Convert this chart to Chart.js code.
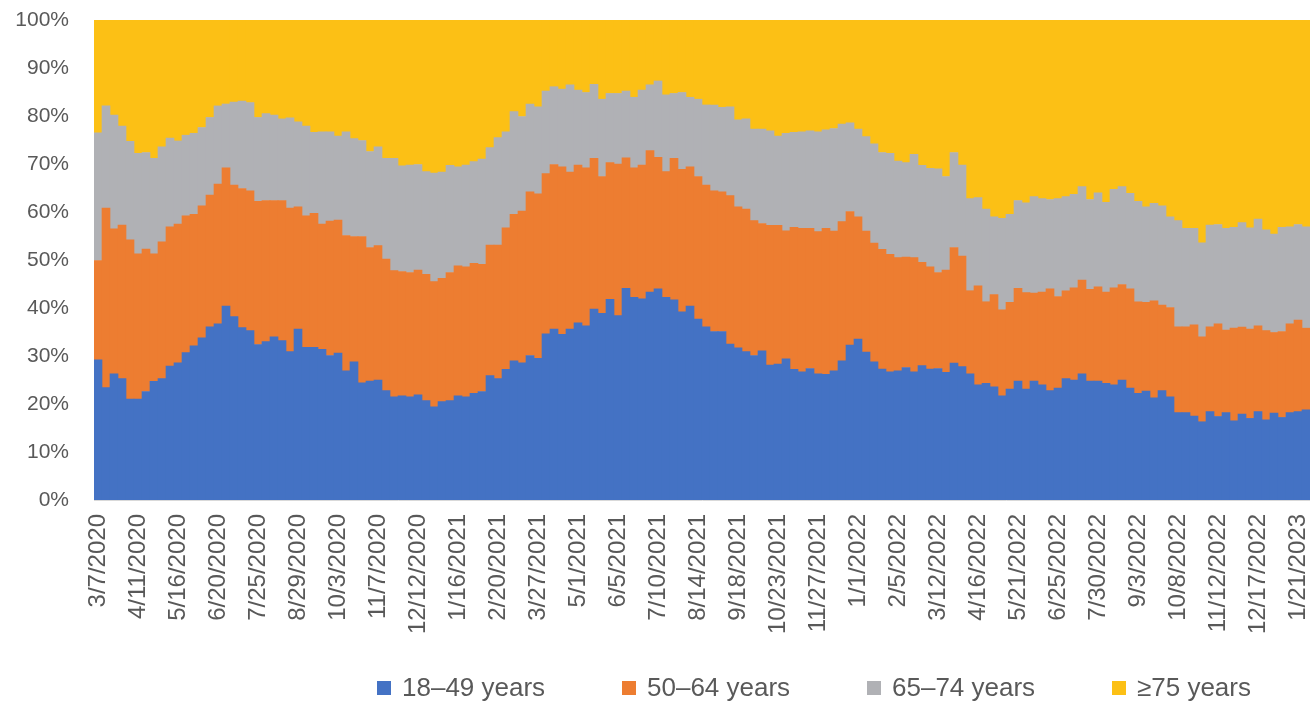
<!DOCTYPE html>
<html>
<head>
<meta charset="utf-8">
<script src="https://cdn.jsdelivr.net/npm/chart.js@4"></script>
<style>
  html, body { margin: 0; padding: 0; background: #ffffff; }
  #wrap { width: 1310px; height: 701px; position: relative; }
</style>
</head>
<body>
<div id="wrap"><canvas id="ageChart"></canvas></div>
<script>
    // Weekly categories, first week 3/7/2020
    const firstWeek = [2020, 2, 7];
    const weekCount = 152;
    const weeks = [];
    for (let i = 0; i < weekCount; i++) {
      const d = new Date(Date.UTC(firstWeek[0], firstWeek[1], firstWeek[2] + 7 * i));
      weeks.push((d.getUTCMonth() + 1) + '/' + d.getUTCDate() + '/' + d.getUTCFullYear());
    }
    const labelEvery = 5;

    const seriesNames = ['18–49 years', '50–64 years', '65–74 years', '≥75 years'];
    const seriesColors = ['#4472C4', '#ED7D31', '#B0B1B5', '#FCC015'];

    // Share of each age group per week (%)
    const age18to49 = [
      29.2, 23.4, 26.3, 25.3, 21.0, 21.0, 22.6, 24.7, 25.3, 27.9,
      28.6, 30.7, 32.1, 33.8, 36.1, 36.7, 40.4, 38.2, 35.9, 35.3,
      32.4, 33.0, 34.0, 33.2, 30.9, 35.6, 31.8, 31.8, 31.4, 30.1,
      30.6, 26.9, 28.8, 24.4, 24.8, 25.0, 22.8, 21.5, 21.7, 21.5,
      21.9, 20.7, 19.4, 20.5, 20.7, 21.7, 21.5, 22.2, 22.6, 25.9,
      25.3, 27.2, 29.0, 28.6, 30.1, 29.5, 34.6, 35.6, 34.5, 35.6,
      36.9, 36.3, 39.8, 38.9, 41.8, 38.4, 44.1, 42.2, 41.9, 43.3,
      44.0, 42.2, 41.7, 39.2, 40.4, 37.7, 36.1, 35.1, 35.1, 32.5,
      31.7, 30.9, 30.1, 31.1, 28.1, 28.3, 29.4, 27.2, 26.7, 27.4,
      26.3, 26.2, 26.9, 29.0, 32.3, 33.5, 30.8, 28.8, 27.3, 26.7,
      26.9, 27.6, 26.7, 28.0, 27.3, 27.4, 26.6, 28.5, 27.8, 26.3,
      24.0, 24.3, 23.6, 21.7, 23.1, 24.8, 23.1, 24.8, 24.0, 22.8,
      23.3, 25.3, 25.0, 26.3, 24.8, 24.8, 24.3, 24.0, 25.0, 23.3,
      22.2, 22.7, 21.3, 22.8, 21.5, 18.2, 18.2, 17.5, 16.3, 18.4,
      17.4, 18.2, 16.5, 17.9, 17.0, 18.4, 16.7, 18.1, 17.2, 18.2,
      18.4, 18.8
    ];
    const age50to64 = [
      20.7, 37.4, 30.2, 32.0, 33.2, 30.3, 29.7, 26.6, 28.5, 29.0,
      28.9, 28.5, 27.4, 27.5, 27.4, 29.1, 28.8, 27.4, 29.0, 29.1,
      29.8, 29.4, 28.4, 29.2, 29.9, 25.5, 27.4, 27.9, 26.1, 28.0,
      27.7, 28.2, 26.1, 30.5, 27.8, 28.0, 27.4, 26.3, 25.9, 25.9,
      26.0, 26.3, 26.1, 25.7, 26.7, 27.1, 27.1, 27.1, 26.5, 27.2,
      27.8, 29.5, 30.5, 31.6, 34.1, 34.3, 33.4, 34.3, 34.9, 32.7,
      32.9, 32.9, 31.4, 28.5, 28.5, 31.6, 27.2, 27.0, 27.9, 29.5,
      27.4, 26.2, 29.5, 29.7, 29.0, 29.7, 29.5, 29.3, 29.1, 30.9,
      29.4, 29.7, 28.1, 26.5, 29.1, 28.9, 26.7, 29.6, 29.9, 29.2,
      29.6, 30.4, 29.1, 29.0, 27.8, 25.5, 25.2, 24.7, 24.9, 24.5,
      23.6, 23.0, 23.8, 21.5, 21.3, 20.0, 21.3, 24.1, 23.0, 17.3,
      20.6, 17.0, 19.2, 17.9, 18.1, 19.3, 20.1, 18.3, 19.3, 21.2,
      19.1, 18.3, 19.2, 19.5, 19.1, 19.6, 19.0, 20.2, 19.9, 20.7,
      19.1, 18.5, 20.2, 17.8, 18.6, 17.9, 17.9, 19.0, 17.7, 17.7,
      19.3, 17.2, 19.3, 18.1, 18.6, 17.9, 18.6, 16.8, 17.9, 18.5,
      19.1, 17.0
    ];
    const age65to74 = [
      26.6, 21.3, 23.7, 20.6, 20.5, 20.9, 20.1, 19.9, 19.8, 18.5,
      17.3, 16.8, 16.9, 16.3, 16.2, 16.3, 13.3, 17.3, 18.2, 18.4,
      17.5, 18.1, 17.8, 17.0, 18.8, 17.7, 18.7, 16.9, 19.2, 18.6,
      17.5, 21.6, 20.4, 20.0, 20.0, 20.6, 21.0, 23.4, 22.0, 22.4,
      22.0, 21.4, 22.6, 22.1, 22.3, 20.6, 21.2, 21.2, 21.9, 20.3,
      22.4, 20.0, 21.4, 19.7, 18.3, 18.1, 17.2, 16.2, 16.2, 18.2,
      15.6, 15.7, 15.4, 16.1, 14.4, 14.7, 13.9, 14.7, 15.6, 13.7,
      15.9, 16.0, 13.5, 16.0, 14.5, 16.1, 16.7, 17.9, 17.6, 18.5,
      18.1, 18.8, 19.1, 19.7, 19.7, 18.6, 20.3, 19.8, 20.1, 20.3,
      20.8, 20.5, 21.4, 20.3, 18.5, 18.3, 19.7, 20.7, 20.2, 21.0,
      20.1, 19.7, 21.5, 20.2, 20.5, 21.6, 19.5, 19.8, 19.0, 19.2,
      18.4, 19.3, 16.2, 19.1, 18.3, 18.3, 18.7, 20.1, 19.5, 18.6,
      20.4, 19.6, 19.5, 19.5, 18.7, 19.6, 18.7, 20.5, 20.4, 19.9,
      20.9, 19.9, 20.3, 20.7, 18.9, 22.1, 20.5, 20.1, 19.6, 21.2,
      20.7, 21.2, 21.0, 21.8, 21.1, 22.2, 21.0, 20.5, 21.7, 20.2,
      19.9, 21.1
    ];
    const age75plus = [
      23.5, 17.9, 19.8, 22.1, 25.3, 27.8, 27.6, 28.8, 26.4, 24.6,
      25.2, 24.0, 23.6, 22.4, 20.3, 17.9, 17.5, 17.1, 16.9, 17.2,
      20.3, 19.5, 19.8, 20.6, 20.4, 21.2, 22.1, 23.4, 23.3, 23.3,
      24.2, 23.3, 24.7, 25.1, 27.4, 26.4, 28.8, 28.8, 30.4, 30.2,
      30.1, 31.6, 31.9, 31.7, 30.3, 30.6, 30.2, 29.5, 29.0, 26.6,
      24.5, 23.3, 19.1, 20.1, 17.5, 18.1, 14.8, 13.9, 14.4, 13.5,
      14.6, 15.1, 13.4, 16.5, 15.3, 15.3, 14.8, 16.1, 14.6, 13.5,
      12.7, 15.6, 15.3, 15.1, 16.1, 16.5, 17.7, 17.7, 18.2, 18.1,
      20.8, 20.6, 22.7, 22.7, 23.1, 24.2, 23.6, 23.4, 23.3, 23.1,
      23.3, 22.9, 22.6, 21.7, 21.4, 22.7, 24.3, 25.8, 27.6, 27.8,
      29.4, 29.7, 28.0, 30.3, 30.9, 31.0, 32.6, 27.6, 30.2, 37.2,
      37.0, 39.4, 41.0, 41.3, 40.5, 37.6, 38.1, 36.8, 37.2, 37.4,
      37.2, 36.8, 36.3, 34.7, 37.4, 36.0, 38.0, 35.3, 34.7, 36.1,
      37.8, 38.9, 38.2, 38.7, 41.0, 41.8, 43.4, 43.4, 46.4, 42.7,
      42.6, 43.4, 43.2, 42.2, 43.3, 41.5, 43.7, 44.6, 43.2, 43.1,
      42.6, 43.1
    ];

    // Legend drawn under the axis labels, like the original
    const bottomLegend = {
      id: 'bottomLegend',
      afterDraw(chart) {
        const ctx = chart.ctx;
        ctx.save();
        ctx.font = '26px "Liberation Sans", Arial, sans-serif';
        ctx.textBaseline = 'middle';
        ctx.textAlign = 'left';
        chart.data.datasets.forEach((ds, i) => {
          const x = 377 + i * 245;
          ctx.fillStyle = ds.backgroundColor;
          ctx.fillRect(x, 681, 14, 14);
          ctx.fillStyle = '#595959';
          ctx.fillText(ds.label, x + 25, 689);
        });
        ctx.restore();
      }
    };

    function initChart() {
      const ctx = document.getElementById('ageChart').getContext('2d');
      const values = [age18to49, age50to64, age65to74, age75plus];
      new Chart(ctx, {
        type: 'bar',
        data: {
          labels: weeks,
          datasets: seriesNames.map((name, i) => ({
            label: name,
            data: values[i],
            backgroundColor: seriesColors[i],
            borderWidth: 0,
            barPercentage: 1,
            categoryPercentage: 1
          }))
        },
        options: {
          responsive: true,
          maintainAspectRatio: false,
          animation: false,
          layout: {
            padding: { top: 20, right: 0, bottom: 60, left: 0 }
          },
          plugins: {
            legend: { display: false },
            title: { display: false },
            tooltip: { enabled: false }
          },
          scales: {
            x: {
              stacked: true,
              grid: { display: false, drawTicks: false },
              border: { display: true, color: '#D9D9D9', width: 1 },
              ticks: {
                autoSkip: false,
                minRotation: 90,
                maxRotation: 90,
                padding: 14,
                color: '#595959',
                font: { family: '"Liberation Sans", Arial, sans-serif', size: 24 },
                callback: function(value, index) {
                  return index % labelEvery === 0 ? this.getLabelForValue(value) : '';
                }
              },
              afterFit: function(scale) {
                scale.height = 141;
                scale.paddingLeft = 0;
                scale.paddingRight = 0;
                scale.paddingTop = 0;
                scale.paddingBottom = 0;
              }
            },
            y: {
              stacked: true,
              min: 0,
              max: 100,
              grid: { display: false, drawTicks: false },
              border: { display: false },
              ticks: {
                stepSize: 10,
                padding: 25,
                color: '#595959',
                font: { family: '"Liberation Sans", Arial, sans-serif', size: 21 },
                callback: v => v + '%'
              },
              afterFit: function(scale) {
                scale.width = 94;
                scale.paddingTop = 0;
                scale.paddingBottom = 0;
              }
            }
          }
        },
        plugins: [bottomLegend]
      });
    }

    initChart();
</script>
</body>
</html>
